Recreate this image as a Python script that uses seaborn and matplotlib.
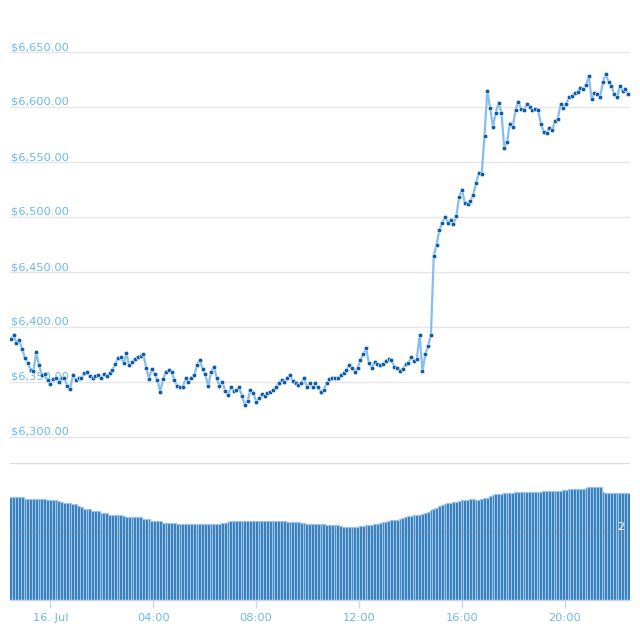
import matplotlib
matplotlib.use("Agg")
import matplotlib.pyplot as plt
from matplotlib.ticker import FuncFormatter
import seaborn as sns
import pandas as pd

# ---- data ----
start_time = "2018-07-15 22:28"
end_time = "2018-07-16 22:28"

prices = [
    6389, 6393, 6385, 6388, 6380, 6372, 6367, 6361, 6360, 6377,
    6365, 6356, 6357, 6352, 6348, 6353, 6354, 6350, 6354, 6354,
    6346, 6344, 6356, 6352, 6354, 6354, 6358, 6359, 6355, 6354,
    6355, 6356, 6354, 6357, 6355, 6358, 6361, 6366, 6372, 6373,
    6367, 6376, 6365, 6368, 6371, 6373, 6374, 6375, 6363, 6353,
    6362, 6357, 6352, 6341, 6353, 6359, 6361, 6359, 6352, 6346,
    6345, 6345, 6354, 6350, 6354, 6356, 6365, 6370, 6362, 6357,
    6346, 6359, 6364, 6354, 6346, 6350, 6342, 6338, 6345, 6342,
    6343, 6345, 6337, 6329, 6333, 6343, 6340, 6332, 6335, 6339,
    6337, 6340, 6341, 6343, 6345, 6349, 6352, 6350, 6354, 6356,
    6351, 6349, 6347, 6349, 6354, 6345, 6349, 6345, 6349, 6345,
    6341, 6343, 6349, 6353, 6354, 6354, 6354, 6356, 6358, 6361,
    6365, 6363, 6359, 6363, 6370, 6375, 6381, 6367, 6363, 6368,
    6366, 6365, 6366, 6369, 6371, 6370, 6364, 6363, 6360, 6362,
    6366, 6367, 6373, 6369, 6371, 6393, 6360, 6375, 6383, 6393,
    6465, 6475, 6488, 6495, 6500, 6495, 6497, 6494, 6501, 6518,
    6525, 6513, 6512, 6515, 6520, 6531, 6540, 6539, 6574, 6615,
    6599, 6582, 6595, 6604, 6595, 6563, 6568, 6585, 6582, 6597,
    6605, 6598, 6597, 6603, 6600, 6597, 6598, 6597, 6585, 6577,
    6576, 6581, 6579, 6587, 6589, 6603, 6599, 6603, 6609, 6610,
    6613, 6614, 6617, 6616, 6620, 6628, 6607, 6613, 6612, 6609,
    6623, 6630, 6623, 6619, 6612, 6609, 6619, 6615, 6616, 6612,
]

# volume (billions USD)
volumes = (
    [3.02, 3.02, 3.01, 3.01, 3.00]
    + [2.96, 2.95, 2.95, 2.95, 2.95, 2.94, 2.95, 2.94]
    + [2.92, 2.92, 2.92, 2.91, 2.90]
    + [2.85, 2.84, 2.84, 2.83]
    + [2.80, 2.79]
    + [2.73, 2.72]
    + [2.67, 2.66, 2.65]
    + [2.60, 2.60, 2.59]
    + [2.55, 2.54, 2.53]
    + [2.49, 2.48, 2.48, 2.48, 2.47]
    + [2.44, 2.43, 2.43, 2.43, 2.43, 2.42, 2.42]
    + [2.37, 2.36, 2.36]
    + [2.32, 2.31, 2.31, 2.30]
    + [2.26, 2.26, 2.25]
    + [2.24, 2.24, 2.23, 2.23, 2.23, 2.22, 2.22, 2.22, 2.22, 2.22,
       2.22, 2.22, 2.22, 2.22, 2.22, 2.23, 2.23, 2.23, 2.24, 2.26, 2.28]
    + [2.30, 2.31, 2.31, 2.31, 2.31, 2.31, 2.31, 2.31, 2.31, 2.31,
       2.31, 2.31, 2.31, 2.31, 2.31, 2.30, 2.30, 2.30, 2.30, 2.30,
       2.29, 2.29, 2.29, 2.28, 2.27]
    + [2.25, 2.24, 2.23, 2.22, 2.22, 2.22, 2.21, 2.21, 2.21, 2.20,
       2.20, 2.20, 2.19, 2.18]
    + [2.15, 2.14, 2.13, 2.13, 2.13, 2.13, 2.14]
    + [2.16, 2.17, 2.18, 2.19, 2.20, 2.21, 2.22]
    + [2.25, 2.27, 2.29, 2.31, 2.33, 2.34, 2.35, 2.36]
    + [2.40, 2.42, 2.44, 2.46, 2.47, 2.48, 2.49]
    + [2.52, 2.55, 2.57]
    + [2.62, 2.66, 2.70, 2.74]
    + [2.78, 2.81, 2.83, 2.84]
    + [2.86, 2.87]
    + [2.90, 2.92, 2.92]
    + [2.93, 2.94, 2.94]
    + [2.92, 2.92]
    + [2.96, 2.97, 2.98]
    + [3.05, 3.07]
    + [3.09, 3.10, 3.10]
    + [3.12, 3.13, 3.13, 3.13, 3.14, 3.14]
    + [3.16, 3.16, 3.16, 3.15, 3.16, 3.16, 3.16, 3.16, 3.17]
    + [3.18, 3.19, 3.19, 3.19, 3.19, 3.19, 3.20]
    + [3.22, 3.23, 3.23, 3.23, 3.23, 3.24, 3.25]
    + [3.28, 3.29, 3.29, 3.29, 3.29, 3.29]
    + [3.14, 3.13, 3.13, 3.13, 3.12, 3.12]
    + [3.12, 3.11, 3.12, 3.12]
)

price_ticks = [6300, 6350, 6400, 6450, 6500, 6550, 6600, 6650]
time_ticks = ["2018-07-16 00:00", "2018-07-16 04:00", "2018-07-16 08:00",
              "2018-07-16 12:00", "2018-07-16 16:00", "2018-07-16 20:00"]
time_tick_labels = ["16. Jul", "04:00", "08:00", "12:00", "16:00", "20:00"]
volume_ticks = [2, 4]
volume_tick_labels = ["2", ""]

# ---- build ----
n = min(len(prices), len(volumes))
times = pd.date_range(start_time, end_time, periods=n)
df = pd.DataFrame({"time": times, "price": prices[:n], "volume": volumes[:n]})
step_days = (times[1] - times[0]) / pd.Timedelta(days=1)

sns.set_style("white")
plt.rcParams["font.family"] = ["DejaVu Sans"]

LABEL = "#6cb8e8"
GRID = "#e6e6e6"
LINE = "#86bdf0"
DOT = "#0d5ca6"

W, H = 640, 640
fig = plt.figure(figsize=(6.4, 6.4), dpi=100)
fig.patch.set_facecolor("white")

ax1 = fig.add_axes([10 / W, 1 - 463 / H, 620 / W, (463 - 10) / H])
ax2 = fig.add_axes([10 / W, 1 - 600 / H, 620 / W, 137 / H], sharex=ax1)

# price line
sns.lineplot(data=df, x="time", y="price", ax=ax1, color=LINE, linewidth=1.6,
             marker="o", markersize=3.3, markerfacecolor=DOT,
             markeredgecolor="white", markeredgewidth=0.4, zorder=3)

px_per_usd = 1.1
ax1.set_ylim(6650 - (463 - 52) / px_per_usd, 6650 + (52 - 10) / px_per_usd)
ax1.set_yticks(price_ticks)
ax1.yaxis.set_major_formatter(FuncFormatter(lambda v, p: f"${v:,.2f}"))
ax1.tick_params(axis="y", length=0, pad=-1, labelcolor=LABEL, labelsize=8.2)
plt.setp(ax1.get_yticklabels(), ha="left", va="bottom")
ax1.grid(axis="y", color=GRID, linewidth=1)
ax1.grid(axis="x", visible=False)
ax1.set_axisbelow(True)
ax1.tick_params(axis="x", which="both", bottom=False, labelbottom=False)
ax1.set_xlabel("")
ax1.set_ylabel("")
for s in ax1.spines.values():
    s.set_visible(False)
ax1.patch.set_alpha(0)

# volume bars
ax2.bar(df["time"], df["volume"], width=step_days, color="#2d78b8",
        edgecolor="#9cc4e6", linewidth=0.85, zorder=1)
ax2.set_ylim(0, 4)
ax2.set_yticks(volume_ticks)
ax2.set_yticklabels(volume_tick_labels)
ax2.yaxis.tick_right()
ax2.tick_params(axis="y", length=0, pad=-4, labelcolor="white", labelsize=8.2)
plt.setp(ax2.get_yticklabels(), ha="right", va="bottom")
ax2.grid(axis="y", color="#8a8a8a", alpha=0.3, linewidth=1)
ax2.grid(axis="x", visible=False)
ax2.set_axisbelow(False)
for k, s in ax2.spines.items():
    s.set_visible(k == "bottom")
ax2.spines["bottom"].set_color("#ccd6eb")
ax2.spines["bottom"].set_linewidth(1)

ax2.set_xticks(pd.to_datetime(time_ticks))
ax2.set_xticklabels(time_tick_labels)
ax2.tick_params(axis="x", bottom=True, length=6, width=1, color="#ccd6eb",
                pad=3.5, labelcolor=LABEL, labelsize=8.2)
ax2.set_xlim(times[0] - pd.Timedelta(minutes=2), times[-1] + pd.Timedelta(minutes=4))
ax2.set_xlabel("")
ax2.set_ylabel("")

fig.savefig("out.png", dpi=100, facecolor="white")
